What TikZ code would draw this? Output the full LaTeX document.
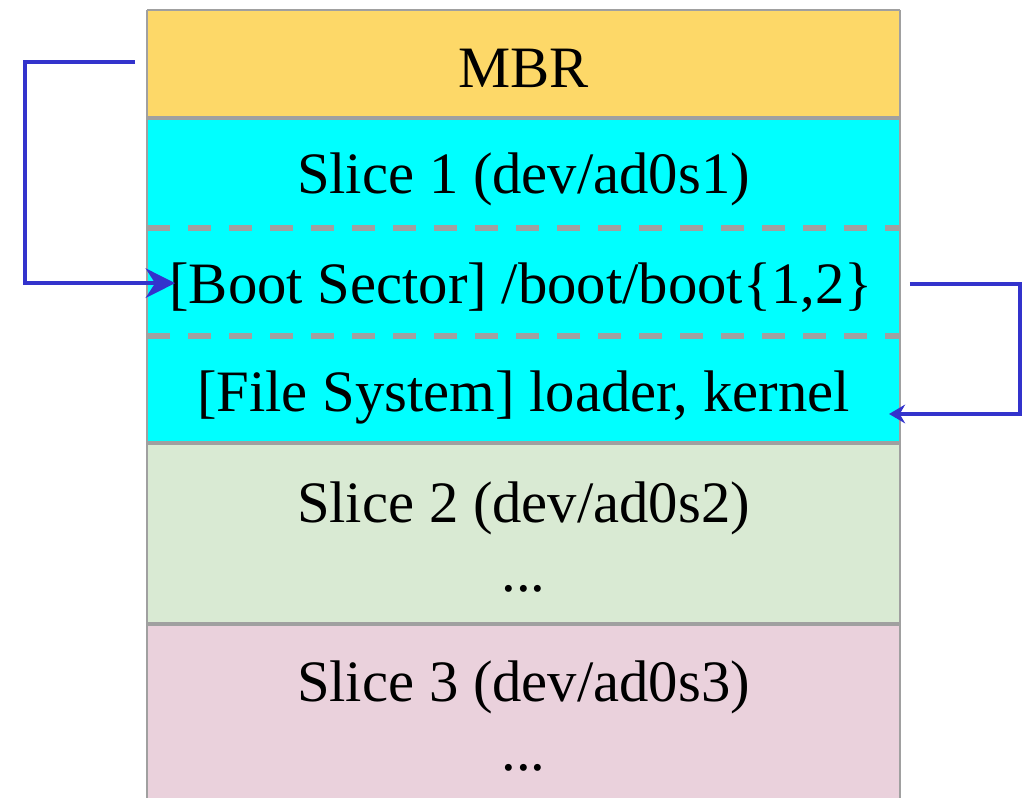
\documentclass[tikz,border=0pt]{standalone}
\usepackage{fontspec}
\setmainfont{Liberation Serif}
\usetikzlibrary{positioning, arrows.meta}
\definecolor{mbryellow}{RGB}{253, 216, 104}
\definecolor{slicecyan}{RGB}{0, 255, 255}
\definecolor{slicegreen}{RGB}{217, 234, 211}
\definecolor{slicepink}{RGB}{234, 209, 220}
\definecolor{bordergray}{RGB}{160, 160, 160}
\definecolor{linkblue}{RGB}{51, 51, 204}

\begin{document}
\begin{tikzpicture}[
        x=0.75pt, y=-0.75pt,
        every node/.style={font=\fontsize{44}{50}\selectfont, inner sep=0pt},
        label/.style={anchor=base},
        band/.style={rectangle, minimum width=564.75pt, anchor=north west, inner sep=0pt, outer sep=0pt},
        sep/.style={draw=bordergray, line width=3.5pt},
        edge/.style={draw=bordergray, line width=1.5pt},
        split/.style={draw=bordergray, line width=4.2pt, dash pattern=on 17.25pt off 13.5pt},
        link/.style={draw=linkblue, line width=3.5pt, -{Stealth[length=22pt, width=22pt, inset=7pt]}},
        smalllink/.style={draw=linkblue, line width=3.5pt, -{Stealth[length=12pt, width=14pt, inset=4pt]}}
    ]
        \useasboundingbox (0,0) rectangle (1023,798);

        % Disk layout
        \node[band, fill=mbryellow, minimum height=81pt] (mbr) at (147,10) {};
        \node[band, fill=slicecyan, minimum height=243.75pt, below=0pt of mbr] (slice1) {};
        \node[band, fill=slicegreen, minimum height=135.75pt, below=0pt of slice1] (slice2) {};
        \node[band, fill=slicepink, minimum height=130.5pt, below=0pt of slice2] (slice3) {};

        % Borders
        \draw[edge] (mbr.north west) -- (mbr.north east);
        \draw[edge] (mbr.north west) -- (slice3.south west);
        \draw[edge] (mbr.north east) -- (slice3.south east);
        \draw[sep] (slice1.north west) -- (slice1.north east);
        \draw[sep] (slice2.north west) -- (slice2.north east);
        \draw[sep] (slice3.north west) -- (slice3.north east);
        \draw[split] (147,228) -- (900,228);
        \draw[split] (147,336) -- (900,336);

        % Labels
        \node[label] (mbrtxt) at (523.5,88) {MBR};
        \node[label] (s1txt) at (523.5,194) {Slice 1 (dev/ad0s1)};
        \node[label] (boot) at (521,303) {[Boot Sector] /boot/boot\{1,2\}};
        \node[label] (fs) at (523.5,411) {[File System] loader, kernel};
        \node[label] (s2txt) at (523.5,522) {Slice 2 (dev/ad0s2)};
        \node[label] (s2dots) at (523.5,591) {...};
        \node[label] (s3txt) at (523.5,701) {Slice 3 (dev/ad0s3)};
        \node[label] (s3dots) at (523.5,770) {...};

        % Boot chain
        \draw[link] ([shift={(-12,-2)}]mbr.west) -- ++(-110,0) |- ([shift={(6,-4)}]boot.west);
        \draw[smalllink] ([shift={(37,-3)}]boot.east) -- ++(110,0) |- ([shift={(39,17)}]fs.east);

    \end{tikzpicture}
\end{document}
